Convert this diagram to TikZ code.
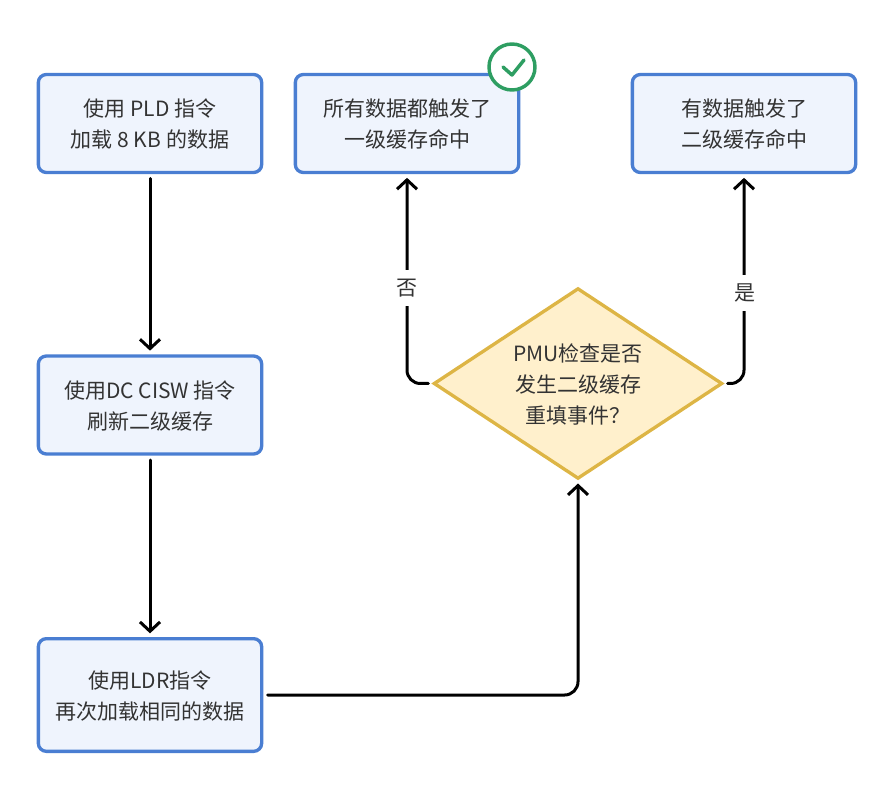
\documentclass[tikz,border=0pt]{standalone}
\usepackage{fontspec}
\setmainfont{Noto Sans CJK SC}
\usetikzlibrary{arrows.meta,shapes.geometric}
\definecolor{stepfill}{HTML}{EFF4FD}
\definecolor{stepline}{HTML}{4A7ED2}
\definecolor{testfill}{HTML}{FFF0CC}
\definecolor{testline}{HTML}{DDB545}
\definecolor{okline}{HTML}{2E9E62}
\definecolor{txtcol}{HTML}{333333}
\tikzset{
  stepbox/.style={draw=stepline,fill=stepfill,line width=2.5pt,rounded corners=6pt,align=center,
    text=txtcol,text depth=-2.5pt,minimum width=167.5pt,outer sep=0pt,inner sep=0pt},
  testbox/.style={draw=testline,fill=testfill,line width=2.5pt,shape=diamond,shape aspect=1.5,align=center,
    text=txtcol,text depth=-1.5pt,minimum width=215.5pt,minimum height=142pt,outer sep=0pt,inner sep=0pt},
  flow/.style={->,line width=2.25pt,line cap=round,rounded corners=10pt,shorten <=4.5pt,shorten >=4pt},
  edgelabel/.style={fill=white,text=txtcol,inner sep=0pt,minimum width=26pt,minimum height=27pt},
  okmark/.style={circle,draw=okline,fill=white,line width=2.6pt,minimum size=34.5pt,inner sep=0pt,outer sep=0pt}
}
\begin{document}
\begin{tikzpicture}[x=0.75pt,y=0.75pt,font=\fontsize{15.75}{23.25}\selectfont,>={Straight Barb[length=7pt,width=15pt]}]
    \useasboundingbox (0,0) rectangle (892,790);

    \node[stepbox,minimum height=73.5pt] (loadfirst) at (150,666.5) {使用 PLD 指令\\加载 8 KB 的数据};
    \node[stepbox,minimum height=73.5pt] (clean) at (150,385) {使用DC CISW 指令\\刷新二级缓存};
    \node[stepbox,minimum height=84.5pt] (loadagain) at (150,95) {使用LDR指令\\再次加载相同的数据};
    \node[stepbox,minimum height=73.5pt] (hitone) at (407,666.5) {所有数据都触发了\\一级缓存命中};
    \node[stepbox,minimum height=73.5pt] (hittwo) at (744,666.5) {有数据触发了\\二级缓存命中};
    \node[testbox] (refill) at (578,406.5) {PMU检查是否\\发生二级缓存\\重填事件？};

    \node[okmark] (okbadge) at (512,723) {};
    \draw[okline,line width=2.6pt,line cap=round,line join=round] ([shift={(-9,0)}]okbadge.center) -- ([shift={(0,-8)}]okbadge.center) -- ([shift={(12,7)}]okbadge.center);

    \draw[flow] (loadfirst) -- (clean);
    \draw[flow] (clean) -- (loadagain);
    \draw[flow] (loadagain.east) -| (refill.south);
    \draw[flow] (refill.west) -| (hitone.south);
    \draw[flow] (refill.east) -| (hittwo.south);

    \node[edgelabel] (nolabel) at (407,502) {否};
    \node[edgelabel] (yeslabel) at (745,497) {是};
\end{tikzpicture}
\end{document}
